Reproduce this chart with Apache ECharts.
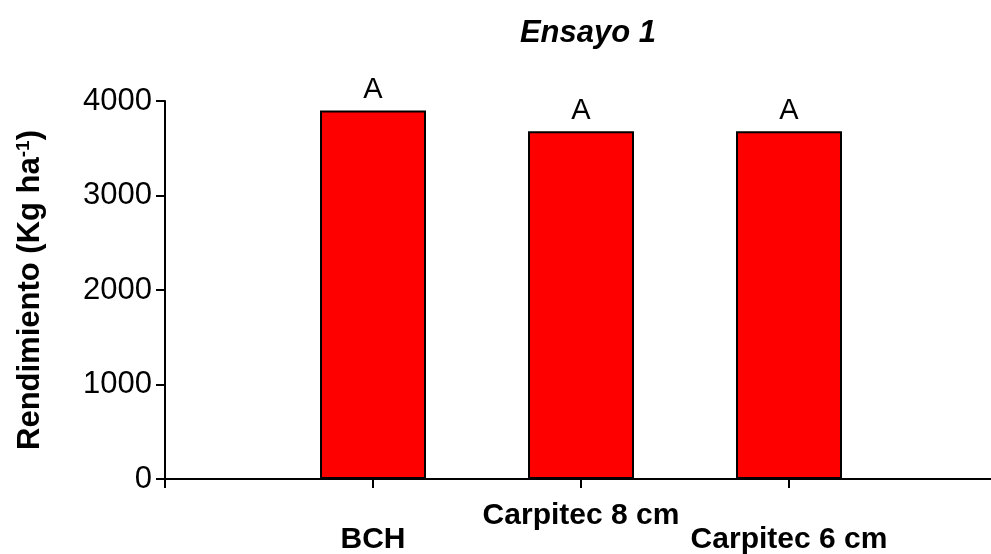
<!DOCTYPE html>
<html>
<head>
<meta charset="utf-8">
<script src="https://cdn.jsdelivr.net/npm/echarts@6/dist/echarts.min.js"></script>
<style>html,body{margin:0;padding:0;background:#fff}#c{width:991px;height:554px}</style>
</head>
<body>
<div id="c"></div>
<script>
const categories = ['', 'BCH', 'Carpitec 8 cm', 'Carpitec 6 cm', ''];
const values = [null, 3900, 3680, 3680, null];
const letters = ['', 'A', 'A', 'A', ''];
const yTicks = [0, 1000, 2000, 3000, 4000];
const titleText = 'Ensayo 1';

const chart = echarts.init(document.getElementById('c'), null, {renderer: 'canvas'});
const FONT = '"Liberation Sans", Arial, sans-serif';
chart.setOption({
  animation: false,
  backgroundColor: '#fff',
  title: {
    text: titleText, left: 583, top: 13, textAlign: 'center',
    textStyle: {fontFamily: FONT, fontSize: 31, fontWeight: 'bold', fontStyle: 'italic', color: '#000'}
  },
  grid: {left: 165, top: 101, bottom: 75, right: -6, containLabel: false, outerBoundsMode: 'none'},
  xAxis: {
    type: 'category', data: categories, boundaryGap: false,
    axisLine: {lineStyle: {color: '#000', width: 2}},
    axisTick: {show: true, length: 9, lineStyle: {color: '#000', width: 2}, interval: 0},
    axisLabel: {
      interval: 0, margin: 25,
      formatter: (v, i) => (i % 2 === 1 ? '\n{a|' + v + '}' : '{a|' + v + '}'),
      rich: {a: {fontFamily: FONT, fontSize: 30, fontWeight: 'bold', color: '#000', lineHeight: 24}},
      lineHeight: 24
    },
    splitLine: {show: false}
  },
  yAxis: {
    type: 'value', min: yTicks[0], max: yTicks[yTicks.length - 1], interval: 1000,
    axisLine: {show: true, lineStyle: {color: '#000', width: 2}},
    axisTick: {show: true, length: 9, lineStyle: {color: '#000', width: 2}},
    axisLabel: {fontFamily: FONT, fontSize: 31, color: '#000', margin: 13, formatter: v => String(v)},
    splitLine: {show: false},
    name: '{b|Rendimiento (Kg ha}{s|-1}{b|)}',
    nameLocation: 'middle', nameGap: 118, nameRotate: 90,
    nameTextStyle: {
      rich: {
        b: {fontFamily: FONT, fontSize: 31, fontWeight: 'bold', color: '#000'},
        s: {fontFamily: FONT, fontSize: 19, fontWeight: 'bold', color: '#000', verticalAlign: 'top', padding: [0, 0, 14, 0]}
      }
    }
  },
  series: [{
    type: 'bar', data: values, barWidth: 106,
    itemStyle: {color: '#ff0000', borderColor: '#000', borderWidth: 2},
    label: {
      show: true, position: 'top', distance: 6,
      formatter: p => letters[p.dataIndex],
      fontFamily: FONT, fontSize: 29, color: '#000'
    }
  }]
});
</script>
</body>
</html>
